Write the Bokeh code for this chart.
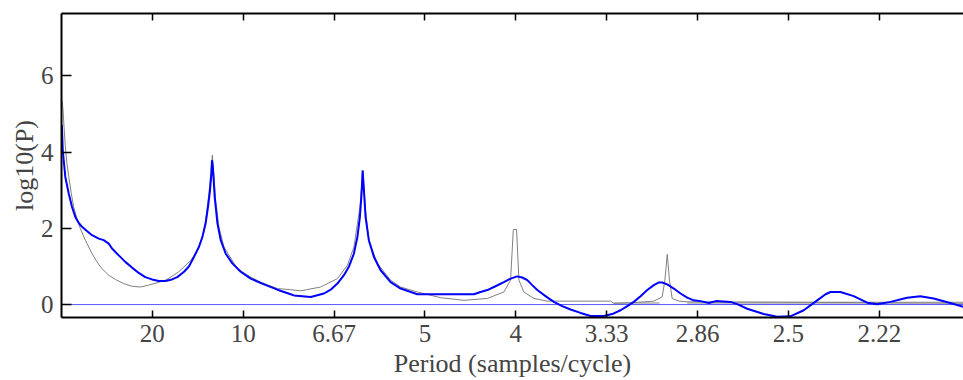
from bokeh.plotting import figure
from bokeh.models import Range1d, FixedTicker, LinearAxis
from bokeh.embed import file_html
from bokeh.resources import INLINE

# ---- data (frequency in cycles/sample, log10 power) ----
freq_blue = [0.0002, 0.0007, 0.0021, 0.0040, 0.0058, 0.0076, 0.0095, 0.0113, 0.0140, 0.0168,
             0.0205, 0.0232, 0.0260, 0.0278, 0.0315, 0.0351, 0.0388, 0.0425, 0.0461, 0.0498,
             0.0535, 0.0572, 0.0608, 0.0637, 0.0674, 0.0701, 0.0729, 0.0756, 0.0775, 0.0793,
             0.0806, 0.0817, 0.0825, 0.0828, 0.0833, 0.0843, 0.0858, 0.0876, 0.0903, 0.0940,
             0.0986, 0.1041, 0.1114, 0.1188, 0.1261, 0.1279, 0.1371, 0.1444, 0.1481, 0.1518,
             0.1554, 0.1581, 0.1609, 0.1628, 0.1642, 0.1651, 0.1657, 0.1664, 0.1673, 0.1691,
             0.1719, 0.1756, 0.1811, 0.1866, 0.1958, 0.2269, 0.2306, 0.2343, 0.2388, 0.2434,
             0.2471, 0.2508, 0.2535, 0.2563, 0.2590, 0.2618, 0.2663, 0.2709, 0.2755, 0.2801,
             0.2856, 0.2911, 0.2984, 0.3030, 0.3076, 0.3113, 0.3149, 0.3186, 0.3223, 0.3259,
             0.3287, 0.3305, 0.3333, 0.3369, 0.3406, 0.3443, 0.3479, 0.3516, 0.3562, 0.3600,
             0.3681, 0.3718, 0.3773, 0.3864, 0.3938, 0.4010, 0.4084, 0.4158, 0.4204, 0.4231,
             0.4286, 0.4359, 0.4433, 0.4488, 0.4561, 0.4653, 0.4725, 0.4799, 0.4890, 0.4963]
logp_blue = [4.72, 4.05, 3.35, 2.91, 2.56, 2.30, 2.14, 2.04, 1.93, 1.82,
             1.73, 1.69, 1.60, 1.47, 1.29, 1.12, 0.97, 0.83, 0.72, 0.66,
             0.62, 0.62, 0.66, 0.72, 0.86, 1.00, 1.25, 1.51, 1.77, 2.13,
             2.56, 3.00, 3.44, 3.79, 3.61, 2.82, 2.13, 1.69, 1.34, 1.08,
             0.86, 0.68, 0.53, 0.39, 0.27, 0.24, 0.20, 0.29, 0.39, 0.55,
             0.77, 0.99, 1.34, 1.77, 2.30, 2.91, 3.52, 3.00, 2.30, 1.69,
             1.25, 0.90, 0.59, 0.42, 0.27, 0.27, 0.33, 0.38, 0.48, 0.59,
             0.68, 0.74, 0.71, 0.64, 0.51, 0.38, 0.22, 0.07, -0.04, -0.13,
             -0.22, -0.30, -0.30, -0.25, -0.15, -0.04, 0.07, 0.22, 0.38, 0.51,
             0.58, 0.58, 0.53, 0.42, 0.29, 0.18, 0.11, 0.09, 0.04, 0.09,
             0.07, 0.01, -0.11, -0.25, -0.32, -0.31, -0.15, 0.11, 0.27, 0.33,
             0.33, 0.22, 0.05, 0.01, 0.07, 0.18, 0.22, 0.16, 0.04, -0.06]

freq_gray = [0.0003, 0.0008, 0.0014, 0.0021, 0.0030, 0.0040, 0.0054, 0.0067, 0.0085, 0.0104,
             0.0131, 0.0168, 0.0195, 0.0223, 0.0260, 0.0296, 0.0342, 0.0388, 0.0434, 0.0480,
             0.0525, 0.0572, 0.0608, 0.0645, 0.0674, 0.0711, 0.0748, 0.0775, 0.0793, 0.0811,
             0.0821, 0.0830, 0.0839, 0.0848, 0.0866, 0.0894, 0.0968, 0.1041, 0.1096, 0.1188,
             0.1261, 0.1316, 0.1426, 0.1518, 0.1573, 0.1609, 0.1642, 0.1658, 0.1673, 0.1691,
             0.1738, 0.1811, 0.1866, 0.1958, 0.2086, 0.2214, 0.2343, 0.2434, 0.2471, 0.2486,
             0.2504, 0.2517, 0.2544, 0.2599, 0.2673, 0.3021, 0.3039, 0.3147, 0.3259, 0.3305,
             0.3320, 0.3333, 0.3345, 0.3360, 0.3397, 0.3443, 0.4963]
logp_gray = [5.35, 5.14, 4.66, 4.14, 3.70, 3.35, 2.91, 2.56, 2.26, 1.99,
             1.69, 1.34, 1.12, 0.94, 0.77, 0.66, 0.55, 0.48, 0.46, 0.51,
             0.57, 0.64, 0.74, 0.86, 0.99, 1.16, 1.43, 1.77, 2.21, 2.91,
             3.44, 3.92, 3.35, 2.74, 2.04, 1.51, 0.94, 0.72, 0.59, 0.42,
             0.39, 0.36, 0.46, 0.68, 1.03, 1.51, 2.56, 3.52, 2.47, 1.69,
             1.08, 0.64, 0.46, 0.33, 0.18, 0.11, 0.16, 0.33, 0.64, 1.97,
             1.97, 0.64, 0.33, 0.16, 0.09, 0.09, 0.03, 0.05, 0.09, 0.20,
             0.64, 1.32, 0.64, 0.16, 0.09, 0.07, 0.04]

# grey jitter bands of the periodogram at high frequencies
band_start = [0.3039, 0.3443]
band_end = [0.3290, 0.4963]
band_low = [0.01, 0.00]
band_high = [0.07, 0.08]

zero_freq = [0.0, 0.4963]
zero_level = [0.0, 0.0]

tick_freqs = [0.05, 0.10, 0.15, 0.20, 0.25, 0.30, 0.35, 0.40, 0.45]
tick_labels = ["20", "10", "6.67", "5", "4", "3.33", "2.86", "2.5", "2.22"]
y_ticks = [0, 2, 4, 6]

FONT = "'Liberation Serif'"

p = figure(width=963, height=380, output_backend="svg", toolbar_location=None,
           x_range=Range1d(0.0, 0.4963), y_range=Range1d(-0.34, 7.64),
           min_border_left=61, min_border_right=0, min_border_top=13, min_border_bottom=63,
           background_fill_color="white", border_fill_color="white")
p.outline_line_color = None
p.grid.visible = False

p.quad(left=band_start, right=band_end, bottom=band_low, top=band_high,
       fill_color="#a8a8a8", fill_alpha=0.7, line_color=None)
p.line(zero_freq, zero_level, line_color="#3030ff", line_width=1, line_alpha=0.8)
p.line(freq_gray, logp_gray, line_color="#808080", line_width=1)
p.line(freq_blue, logp_blue, line_color="#0000ff", line_width=2)

xa = p.xaxis[0]
xa.ticker = FixedTicker(ticks=tick_freqs)
xa.major_label_overrides = {t: l for t, l in zip(tick_freqs, tick_labels)}
xa.axis_label = "Period (samples/cycle)"
xa.minor_tick_line_color = None
xa.major_tick_in = 7
xa.major_tick_out = 0
xa.major_tick_line_width = 1.5
xa.axis_line_width = 2
xa.major_label_standoff = 7
xa.axis_label_standoff = 4
xa.major_label_text_font = FONT
xa.major_label_text_font_size = "25px"
xa.axis_label_text_font = FONT
xa.axis_label_text_font_size = "26px"
xa.axis_label_text_font_style = "normal"

ya = p.yaxis[0]
ya.ticker = FixedTicker(ticks=y_ticks)
ya.axis_label = "log10(P)"
ya.minor_tick_line_color = None
ya.major_tick_in = 10
ya.major_tick_out = 0
ya.major_tick_line_width = 1.5
ya.axis_line_width = 2
ya.major_label_standoff = 8
ya.axis_label_standoff = -1
ya.major_label_text_font = FONT
ya.major_label_text_font_size = "25px"
ya.axis_label_text_font = FONT
ya.axis_label_text_font_size = "26px"
ya.axis_label_text_font_style = "normal"

top = LinearAxis(ticker=FixedTicker(ticks=tick_freqs))
top.major_label_text_font_size = "1px"
top.major_label_text_color = None
top.major_label_standoff = 0
top.minor_tick_line_color = None
top.major_tick_in = 7
top.major_tick_out = 0
top.major_tick_line_width = 1.5
top.axis_line_width = 2
p.add_layout(top, "above")

open("out.html", "w").write(file_html(p, INLINE))
